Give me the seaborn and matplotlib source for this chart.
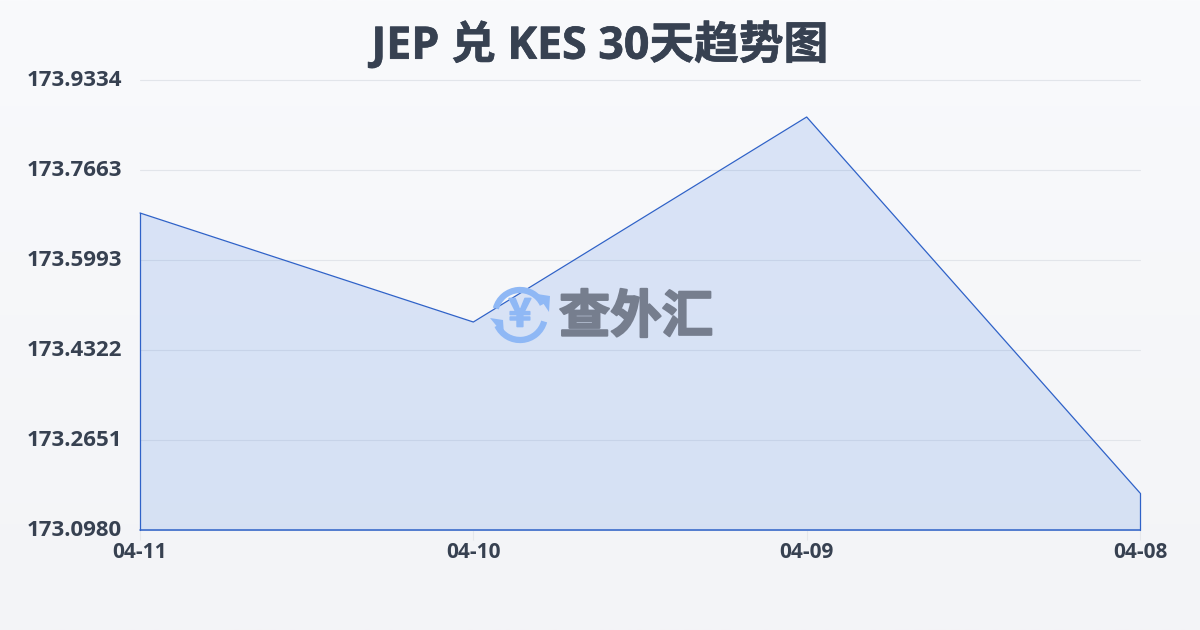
import matplotlib.pyplot as plt
from matplotlib.patches import Arc, Polygon
from matplotlib.transforms import ScaledTranslation
import matplotlib.patheffects as pe
import numpy as np
import seaborn as sns

dates = ["04-11", "04-10", "04-09", "04-08"]
rates = [173.6865, 173.4841, 173.8647, 173.1667]
y_ticks = [173.0980, 173.2651, 173.4322, 173.5993, 173.7663, 173.9334]
y_labels = ["173.0980", "173.2651", "173.4322", "173.5993", "173.7663", "173.9334"]

LINE = "#2f62c8"
TEXT = "#374151"
FONT = ["Open Sans", "Noto Sans CJK SC", "DejaVu Sans"]

sns.set_theme(style="white")
plt.rcParams["font.family"] = FONT

fig = plt.figure(figsize=(12, 6.3), dpi=100)

# page background, light gradient top to bottom
bg = fig.add_axes([0, 0, 1, 1], zorder=0)
bg.imshow(np.linspace(0, 1, 256).reshape(-1, 1), aspect="auto", extent=(0, 1, 0, 1),
          cmap=plt.matplotlib.colors.LinearSegmentedColormap.from_list("bg", ["#f3f4f7", "#f9fafc"]),
          origin="lower")
bg.axis("off")

ax = fig.add_axes([140 / 1200, 1 - 530 / 630, 1000 / 1200, 450 / 630], zorder=1)
ax.patch.set_alpha(0)

xs = np.arange(len(dates))
ax.yaxis.grid(True, color="#e2e5ea", lw=0.8, zorder=1)
ax.fill_between(xs, rates, y_ticks[0], color="#2f70e0", alpha=0.15, lw=0, zorder=2)
sns.lineplot(x=xs, y=rates, ax=ax, color=LINE, linewidth=0.9, zorder=3)

# outline down the sides and along the bottom
ax.plot([0, 0], [y_ticks[0], rates[0]], color=LINE, lw=0.9, zorder=3)
ax.plot([xs[-1], xs[-1]], [y_ticks[0], rates[-1]], color=LINE, lw=0.9, zorder=3)
ax.plot([0, xs[-1]], [y_ticks[0], y_ticks[0]], color=LINE, lw=1.1, zorder=3)

ax.set_xlim(0, len(dates) - 1)
ax.set_ylim(y_ticks[0], y_ticks[-1])
ax.set_xticks(xs)
ax.set_xticklabels(dates, fontsize=15, fontweight="bold", color=TEXT)
ax.set_yticks(y_ticks)
ax.set_yticklabels(y_labels, fontsize=16, fontweight="bold", color=TEXT)
ax.tick_params(axis="x", length=7, width=0.8, color="#e5e7eb", pad=1.5, bottom=True)
ax.tick_params(axis="y", length=0, pad=13)
shift = ScaledTranslation(0, 2 / 100, fig.dpi_scale_trans)
for lab in ax.get_yticklabels():
    lab.set_transform(lab.get_transform() + shift)
for s in ax.spines.values():
    s.set_visible(False)
for a in ax.findobj(plt.Line2D):
    a.set_clip_on(False)
ax.set_xlabel("")
ax.set_ylabel("")

# overlay in pixel coordinates for title and watermark
ov = fig.add_axes([0, 0, 1, 1], zorder=5)
ov.set_xlim(0, 1200)
ov.set_ylim(630, 0)
ov.axis("off")
ov.text(600, 46, "JEP 兑 KES 30天趋势图", ha="center", va="center", fontsize=32.2,
        fontweight="bold", color=TEXT, path_effects=[pe.withStroke(linewidth=0.5, foreground=TEXT)])

blue = "#8fb8f5"
ov.add_patch(Arc((520, 315), 50, 50, theta1=195, theta2=335, color=blue, lw=4.5))
ov.add_patch(Arc((520, 315), 50, 50, theta1=15, theta2=155, color=blue, lw=4.5))
ov.add_patch(Polygon([[537, 294], [550, 296], [549, 312]], closed=True, color=blue, lw=0))
ov.add_patch(Polygon([[490, 318], [503, 320], [504, 335]], closed=True, color=blue, lw=0))
ov.text(520, 315, "¥", ha="center", va="center", fontsize=28, fontweight="bold", color=blue,
        family=["Noto Sans CJK SC", "DejaVu Sans"],
        path_effects=[pe.withStroke(linewidth=1.2, foreground=blue)])
ov.text(636, 317, "查外汇", ha="center", va="center", fontsize=37, fontweight="bold", color="#767e8e",
        family=["Noto Sans CJK SC", "DejaVu Sans"],
        path_effects=[pe.withStroke(linewidth=1.5, foreground="#767e8e")])

fig.savefig("out.png", dpi=100)
